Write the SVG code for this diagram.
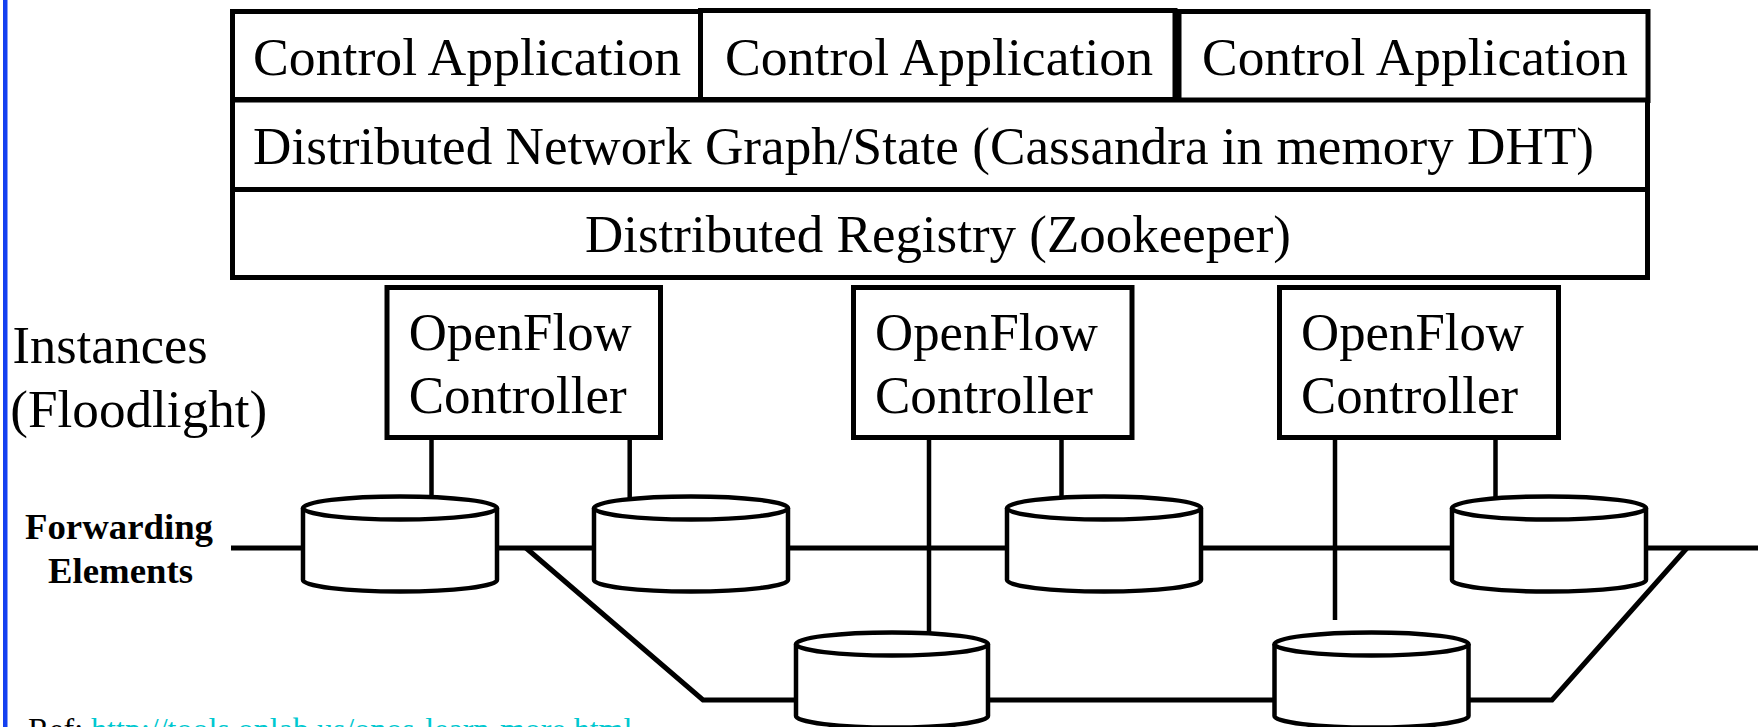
<svg xmlns="http://www.w3.org/2000/svg" width="1763" height="727" viewBox="0 0 1763 727">
<style>
.bx{fill:#fff;stroke:#000;stroke-width:5}
.t{font-family:"Liberation Serif","Times New Roman",serif;font-size:53px;fill:#000}
.tb{font-family:"Liberation Serif","Times New Roman",serif;font-size:36px;font-weight:bold;fill:#000}
.ln{fill:none;stroke:#000;stroke-width:5;stroke-linejoin:miter}
.vl{fill:none;stroke:#000;stroke-width:4.5}
.cyl{fill:#fff;stroke:#000;stroke-width:4.5}
.ref{font-family:"Liberation Serif","Times New Roman",serif;font-size:32px}
</style>
<rect x="0" y="0" width="1763" height="727" fill="#fff"/>
<rect id="leftbar" x="3" y="0" width="4.5" height="727" fill="#1440f0"/>

<g id="connectors">
  <line class="ln" x1="231" y1="548" x2="1758" y2="548"/>
  <polyline class="ln" points="526,548 703,700 1552,700 1687,548"/>
  <line class="vl" x1="431.5" y1="438" x2="431.5" y2="498"/>
  <line class="vl" x1="629.7" y1="438" x2="629.7" y2="498"/>
  <line class="vl" x1="929" y1="438" x2="929" y2="634"/>
  <line class="vl" x1="1061.5" y1="438" x2="1061.5" y2="498"/>
  <line class="vl" x1="1335" y1="438" x2="1335" y2="620"/>
  <line class="vl" x1="1495.5" y1="438" x2="1495.5" y2="498"/>
</g>

<g id="app1"><rect class="bx" x="232.5" y="11.5" width="468" height="88"/>
<text class="t" x="253" y="75" textLength="428" lengthAdjust="spacingAndGlyphs">Control Application</text></g>
<g id="app2"><rect class="bx" x="700.5" y="10.5" width="474.5" height="89"/>
<text class="t" x="725" y="75" textLength="428" lengthAdjust="spacingAndGlyphs">Control Application</text></g>
<g id="app3"><rect class="bx" x="1179" y="11.5" width="469" height="89"/>
<text class="t" x="1202" y="75" textLength="426" lengthAdjust="spacingAndGlyphs">Control Application</text></g>

<g id="state"><rect class="bx" x="232.5" y="100" width="1415" height="89.5"/>
<text class="t" x="253" y="164" textLength="1341" lengthAdjust="spacingAndGlyphs">Distributed Network Graph/State (Cassandra in memory DHT)</text></g>
<g id="registry"><rect class="bx" x="232.5" y="189.5" width="1415" height="88"/>
<text class="t" x="585" y="252" textLength="706" lengthAdjust="spacingAndGlyphs">Distributed Registry (Zookeeper)</text></g>

<g id="ctrl1"><rect class="bx" x="387" y="287.5" width="273.5" height="150"/>
<text class="t" x="408.7" y="350" textLength="223" lengthAdjust="spacingAndGlyphs">OpenFlow</text>
<text class="t" x="408.7" y="413" textLength="218" lengthAdjust="spacingAndGlyphs">Controller</text></g>
<g id="ctrl2"><rect class="bx" x="853.5" y="287.5" width="278.5" height="150"/>
<text class="t" x="875" y="350" textLength="223" lengthAdjust="spacingAndGlyphs">OpenFlow</text>
<text class="t" x="875" y="413" textLength="218" lengthAdjust="spacingAndGlyphs">Controller</text></g>
<g id="ctrl3"><rect class="bx" x="1279.5" y="287.5" width="279" height="150"/>
<text class="t" x="1301" y="350" textLength="223" lengthAdjust="spacingAndGlyphs">OpenFlow</text>
<text class="t" x="1301" y="413" textLength="217" lengthAdjust="spacingAndGlyphs">Controller</text></g>

<g id="instances-label">
<text class="t" x="12.6" y="363" textLength="195" lengthAdjust="spacingAndGlyphs">Instances</text>
<text class="t" x="10.3" y="427" textLength="257" lengthAdjust="spacingAndGlyphs">(Floodlight)</text></g>
<g id="fe-label">
<text class="tb" x="25" y="539" textLength="188" lengthAdjust="spacingAndGlyphs">Forwarding</text>
<text class="tb" x="48" y="583" textLength="145" lengthAdjust="spacingAndGlyphs">Elements</text></g>

<g id="fe1"><path class="cyl" d="M303,508 A97,11.5 0 0 1 497,508 L497,580 A97,11.5 0 0 1 303,580 Z"/><path class="cyl" d="M303,508 A97,11.5 0 0 0 497,508"/></g>
<g id="fe2"><path class="cyl" d="M594,508 A97,11.5 0 0 1 788,508 L788,580 A97,11.5 0 0 1 594,580 Z"/><path class="cyl" d="M594,508 A97,11.5 0 0 0 788,508"/></g>
<g id="fe3"><path class="cyl" d="M1007,508 A97,11.5 0 0 1 1201,508 L1201,580 A97,11.5 0 0 1 1007,580 Z"/><path class="cyl" d="M1007,508 A97,11.5 0 0 0 1201,508"/></g>
<g id="fe4"><path class="cyl" d="M1452,508 A97,11.5 0 0 1 1646,508 L1646,580 A97,11.5 0 0 1 1452,580 Z"/><path class="cyl" d="M1452,508 A97,11.5 0 0 0 1646,508"/></g>
<g id="fe5"><path class="cyl" d="M796,644 A96,11.5 0 0 1 988,644 L988,716 A96,11.5 0 0 1 796,716 Z"/><path class="cyl" d="M796,644 A96,11.5 0 0 0 988,644"/></g>
<g id="fe6"><path class="cyl" d="M1274.5,644 A97,11.5 0 0 1 1468.5,644 L1468.5,716 A97,11.5 0 0 1 1274.5,716 Z"/><path class="cyl" d="M1274.5,644 A97,11.5 0 0 0 1468.5,644"/></g>

<text id="ref" class="ref" x="28" y="739.5"><tspan fill="#000">Ref: </tspan><tspan fill="#00c8d0">http://tools.onlab.us/onos-learn-more.html</tspan></text>
</svg>
